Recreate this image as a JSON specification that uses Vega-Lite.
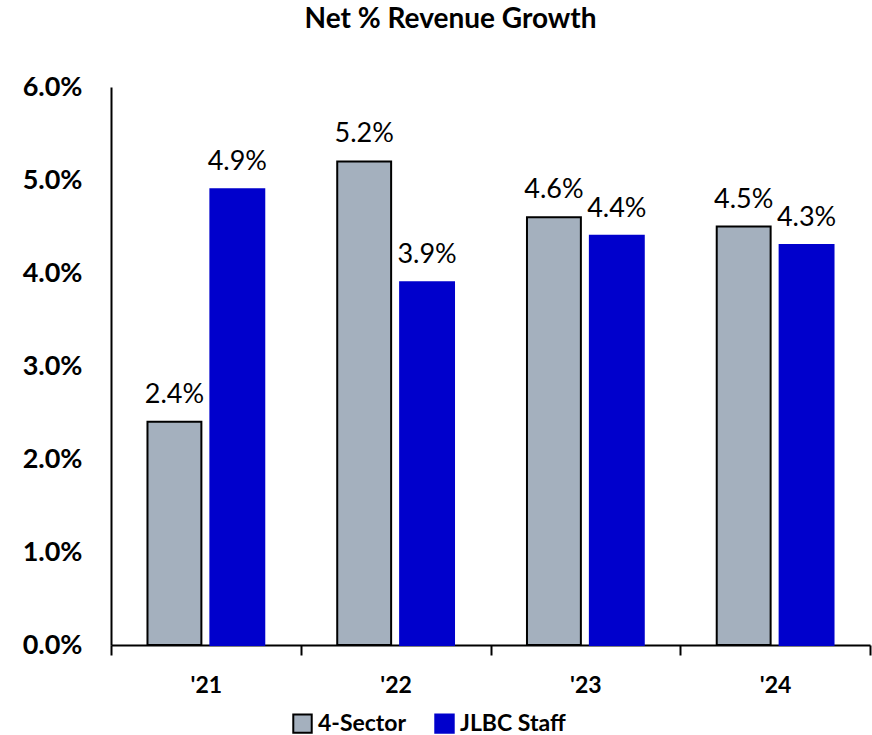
{
  "$schema": "https://vega.github.io/schema/vega-lite/v6.json",
  "autosize": {"type": "none"},
  "width": 759,
  "height": 558,
  "padding": {"left": 111, "top": 87, "right": 2, "bottom": 90},
  "background": "white",
  "title": {
    "text": "Net % Revenue Growth",
    "font": "Lato",
    "fontSize": 28,
    "fontWeight": "bold",
    "color": "black",
    "anchor": "middle",
    "dx": -40,
    "baseline": "bottom",
    "offset": 11
  },
  "data": {
    "values": [
      {"year": "'21", "series": "4-Sector", "value": 0.024},
      {"year": "'21", "series": "JLBC Staff", "value": 0.049},
      {"year": "'22", "series": "4-Sector", "value": 0.052},
      {"year": "'22", "series": "JLBC Staff", "value": 0.039},
      {"year": "'23", "series": "4-Sector", "value": 0.046},
      {"year": "'23", "series": "JLBC Staff", "value": 0.044},
      {"year": "'24", "series": "4-Sector", "value": 0.045},
      {"year": "'24", "series": "JLBC Staff", "value": 0.043}
    ]
  },
  "encoding": {
    "x": {
      "field": "year", "type": "nominal", "sort": null,
      "scale": {"paddingInner": 0, "paddingOuter": 0},
      "axis": {
        "title": null, "labelAngle": 0, "tickBand": "extent",
        "labelFont": "Lato", "labelFontSize": 23, "labelFontWeight": "bold", "labelColor": "black",
        "domainColor": "black", "domainWidth": 2, "tickColor": "black", "tickWidth": 2, "tickSize": 10,
        "labelPadding": 19
      }
    },
    "xOffset": {
      "field": "series", "type": "nominal",
      "scale": {"paddingInner": 0.143, "paddingOuter": 0.58}
    },
    "y": {
      "field": "value", "type": "quantitative",
      "scale": {"domain": [0, 0.06], "nice": false},
      "axis": {
        "title": null, "format": ".1%", "values": [0, 0.01, 0.02, 0.03, 0.04, 0.05, 0.06],
        "grid": false, "ticks": false, "labelPadding": 29,
        "labelFont": "Lato", "labelFontSize": 27, "labelFontWeight": "bold", "labelColor": "black",
        "domainColor": "black", "domainWidth": 2
      }
    }
  },
  "layer": [
    {
      "mark": {"type": "bar", "strokeWidth": 2},
      "encoding": {
        "fill": {
          "field": "series", "type": "nominal",
          "scale": {"domain": ["4-Sector", "JLBC Staff"], "range": ["#A4B0BE", "#0000CC"]},
          "legend": {
            "title": null, "orient": "none", "direction": "horizontal",
            "legendX": 180, "legendY": 625,
            "symbolType": "square", "symbolSize": 340, "symbolStrokeWidth": 2,
            "labelFont": "Lato", "labelFontSize": 23, "labelFontWeight": "bold", "labelColor": "black",
            "labelOffset": 4, "columnPadding": 24
          }
        },
        "stroke": {
          "field": "series", "type": "nominal",
          "scale": {"domain": ["4-Sector", "JLBC Staff"], "range": ["#000000", "#0000CC"]},
          "legend": {
            "title": null, "orient": "none", "direction": "horizontal",
            "legendX": 180, "legendY": 625,
            "symbolType": "square", "symbolSize": 340, "symbolStrokeWidth": 2,
            "labelFont": "Lato", "labelFontSize": 23, "labelFontWeight": "bold", "labelColor": "black",
            "labelOffset": 4, "columnPadding": 24
          }
        }
      }
    },
    {
      "mark": {"type": "text", "font": "Lato", "fontSize": 27, "color": "black", "baseline": "alphabetic", "dy": -19},
      "encoding": {
        "text": {"field": "value", "type": "quantitative", "format": ".1%"}
      }
    }
  ],
  "config": {"view": {"stroke": null}}
}
